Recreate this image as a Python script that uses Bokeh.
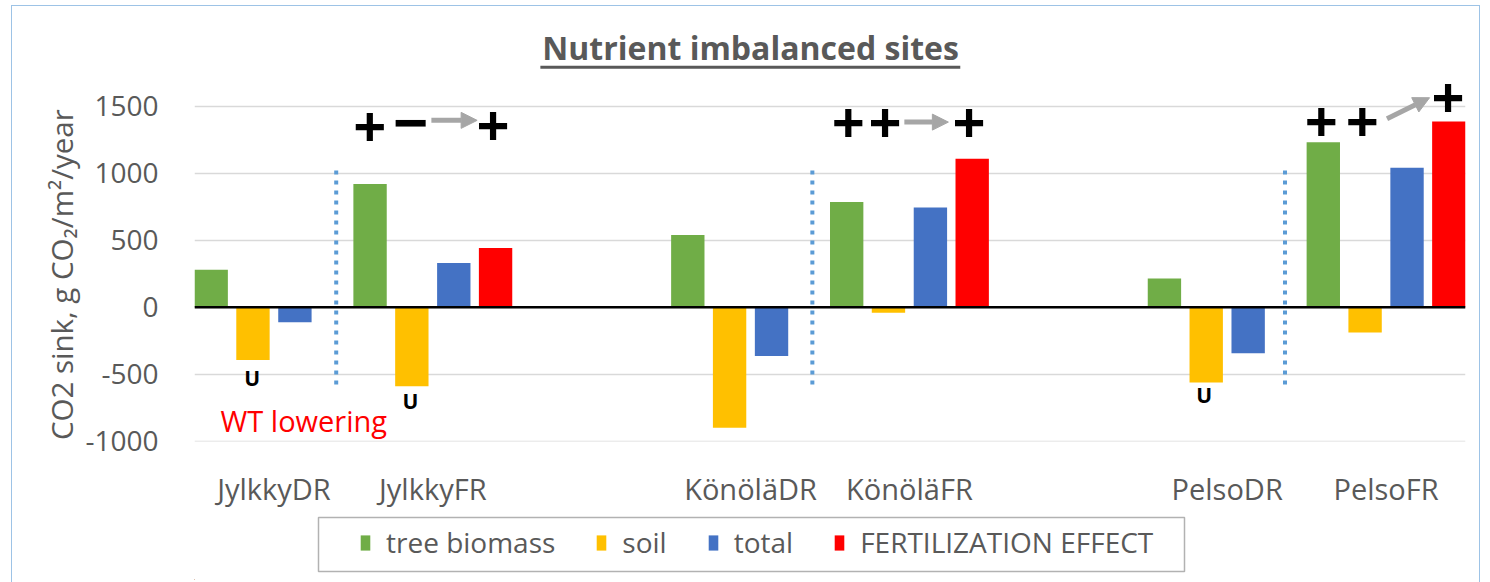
from bokeh.plotting import figure
from bokeh.models import (FactorRange, FixedTicker, Span, Label, Legend, LegendItem,
                          ColumnDataSource, Arrow, NormalHead, PrintfTickFormatter,
                          BoxAnnotation, InlineStyleSheet)
from bokeh.layouts import column
from bokeh.transform import dodge
from bokeh.embed import file_html
from bokeh.resources import INLINE

# ---- data ----
sites = ["JylkkyDR", "JylkkyFR", "KönöläDR", "KönöläFR", "PelsoDR", "PelsoFR"]
tree_biomass = [280, 920, 540, 785, 215, 1230]
soil = [-393, -589, -899, -40, -561, -189]
total = [-112, 330, -363, 745, -343, 1041]
fertilization = [None, 442, None, 1108, None, 1386]
y_ticks = [-1000, -500, 0, 500, 1000, 1500]
series_names = ["tree biomass", "soil", "total", "FERTILIZATION EFFECT"]
colors = ["#70ad47", "#ffc000", "#4472c4", "#ff0000"]

factors = ["JylkkyDR", "JylkkyFR", " ", "KönöläDR", "KönöläFR", "  ", "PelsoDR", "PelsoFR"]

FONT = "Open Sans"
GRAY = "#595959"
NB = "\u00a0"

p = figure(width=1488, height=510, x_range=FactorRange(*factors, range_padding=0),
           y_range=(-1001, 2288), output_backend="svg", toolbar_location=None,
           min_border_left=194, min_border_right=23, min_border_top=0, min_border_bottom=69)
p.outline_line_color = None
p.xgrid.grid_line_color = None
p.ygrid.grid_line_color = "#d9d9d9"
p.ygrid.grid_line_width = 1.5
p.yaxis.ticker = FixedTicker(ticks=y_ticks)
p.yaxis.formatter = PrintfTickFormatter(format="%d")
for ax in (p.xaxis[0], p.yaxis[0]):
    ax.axis_line_color = None
    ax.major_tick_line_color = None
    ax.minor_tick_line_color = None
    ax.major_label_text_color = GRAY
    ax.major_label_text_font = FONT
p.yaxis.major_label_text_font_size = "28px"
p.yaxis.major_label_standoff = 30
p.xaxis.major_label_text_font_size = "29px"
p.xaxis.major_label_standoff = 21
p.yaxis.axis_label = "CO2 sink, g CO₂/m²/year" + NB * 14
p.yaxis.axis_label_text_font = FONT
p.yaxis.axis_label_text_font_size = "29.5px"
p.yaxis.axis_label_text_font_style = "normal"
p.yaxis.axis_label_text_color = GRAY
p.yaxis.axis_label_standoff = 0

src = ColumnDataSource(dict(site=sites, tree=tree_biomass, soil=soil, total=total))
fs = [s for s, f in zip(sites, fertilization) if f is not None]
fv = [f for f in fertilization if f is not None]
src_f = ColumnDataSource(dict(site=fs, fert=fv))

offsets = [-0.395, -0.132, 0.132, 0.395]
W = 0.21
p.vbar(x=dodge("site", offsets[0], range=p.x_range), top="tree", width=W, source=src,
       fill_color=colors[0], line_color=None)
p.vbar(x=dodge("site", offsets[1], range=p.x_range), top="soil", width=W, source=src,
       fill_color=colors[1], line_color=None)
p.vbar(x=dodge("site", offsets[2], range=p.x_range), top="total", width=W, source=src,
       fill_color=colors[2], line_color=None)
p.vbar(x=dodge("site", offsets[3], range=p.x_range), top="fert", width=W, source=src_f,
       fill_color=colors[3], line_color=None)

p.add_layout(Span(location=0, dimension="width", line_color="black", line_width=2.5))

# dotted separators
for xs in (0.892, 3.889, 6.864):
    p.segment(x0=xs, y0=1021, x1=xs, y1=-585, line_color="#5b9bd5", line_width=4,
              line_dash="4 6")

# title (underlined)
p.add_layout(Label(x=3.5, y=1938, text="Nutrient imbalanced sites", text_align="center",
                   text_baseline="middle", text_font=FONT, text_font_style="bold",
                   text_font_size="32px", text_color=GRAY))
p.segment(x0=2.177, y0=1791, x1=4.82, y1=1791, line_color=GRAY, line_width=3)

def sign(x, y, t, size="58px"):
    p.add_layout(Label(x=x, y=y, text=t, text_align="center", text_baseline="middle",
                       text_font=FONT, text_font_style="bold", text_font_size=size,
                       text_color="black"))

def garrow(x0, y0, x1, y1):
    p.add_layout(Arrow(x_start=x0, y_start=y0, x_end=x1, y_end=y1, line_color="#a6a6a6",
                       line_width=5, end=NormalHead(size=16, fill_color="#a6a6a6",
                                                    line_color="#a6a6a6")))

sign(1.104, 1350, "+"); sign(1.359, 1376, "−", "62px"); garrow(1.491, 1394, 1.779, 1394); sign(1.879, 1357, "+")
sign(4.116, 1375, "+"); sign(4.347, 1375, "+"); garrow(4.468, 1381, 4.745, 1381); sign(4.875, 1375, "+")
sign(7.093, 1385, "+"); sign(7.351, 1385, "+"); garrow(7.506, 1406, 7.774, 1563); sign(7.89, 1561, "+")

for ux, uy in ((0.363, -525), (1.359, -702), (6.356, -657)):
    p.add_layout(Label(x=ux, y=uy, text="U", text_align="center", text_baseline="middle",
                       text_font=FONT, text_font_style="bold", text_font_size="21px",
                       text_color="black"))

p.add_layout(Label(x=0.164, y=-844, text="WT lowering", text_align="left",
                   text_baseline="middle", text_font=FONT, text_font_size="29px",
                   text_color="#ff0000"))

# ---- legend strip (separate figure so its box sits below the axis labels) ----
pl = figure(width=1488, height=70, x_range=(0, 1271), y_range=(0, 70), output_backend="svg",
            toolbar_location=None, min_border_left=194, min_border_right=23,
            min_border_top=0, min_border_bottom=0, x_axis_location=None, y_axis_location=None)
pl.outline_line_color = None
pl.xgrid.grid_line_color = None
pl.ygrid.grid_line_color = None
lr = []
for c in colors:
    lr.append(pl.vbar(x=[-500], top=[1], width=1, fill_color=c, line_color=None))
pl.add_layout(BoxAnnotation(left=124, right=990, bottom=9, top=63, fill_alpha=0,
                            line_color="black", line_width=1.5))
legend = Legend(items=[LegendItem(label=n, renderers=[r]) for n, r in zip(series_names, lr)],
                orientation="horizontal", location=(165, 19), border_line_color=None,
                background_fill_alpha=0, label_text_font=FONT, label_text_font_size="28px",
                label_text_color=GRAY, glyph_width=12, glyph_height=19, label_standoff=15,
                spacing=40, padding=0, margin=0)
pl.add_layout(legend)

layout = column(p, pl, spacing=0)
layout.stylesheets = [InlineStyleSheet(css=(
    ":host::after { content: ''; position: absolute; left: 11px; top: 5px; right: 8px; "
    "bottom: -6px; border: 1.5px solid #9dc3e6; pointer-events: none; z-index: 100; }"))]

open("out.html", "w").write(file_html(layout, INLINE))
